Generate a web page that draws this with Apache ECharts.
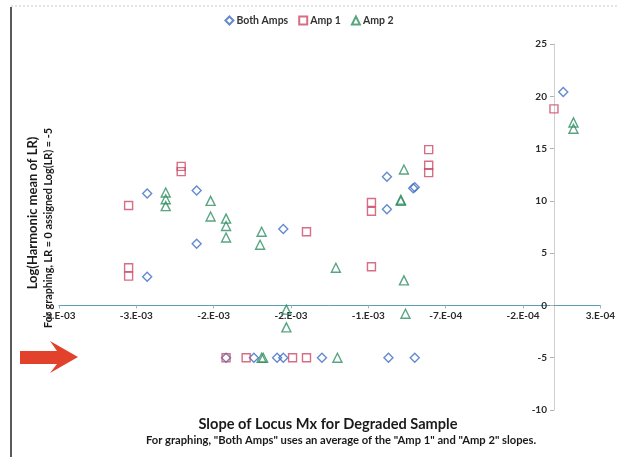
<!DOCTYPE html>
<html>
<head>
<meta charset="utf-8">
<script src="https://cdn.jsdelivr.net/npm/echarts@6/dist/echarts.min.js"></script>
<style>
html,body{margin:0;padding:0;background:#fff;}
#c{width:618px;height:457px;}
</style>
</head>
<body>
<div id="c"></div>
<script>
// ---- data (slope of locus Mx, log harmonic mean LR) ----
const seriesNames = ['Both Amps', 'Amp 1', 'Amp 2'];
const bothAmps = [
  [-2.63e-3, 10.7], [-2.63e-3, 2.75], [-2.31e-3, 11.0], [-2.31e-3, 5.9],
  [-1.75e-3, 7.3], [-1.08e-3, 12.3], [-1.08e-3, 9.2], [-0.91e-3, 11.2],
  [-0.90e-3, 11.3], [0.06e-3, 20.4],
  [-2.12e-3, -5], [-1.94e-3, -5], [-1.79e-3, -5], [-1.75e-3, -5],
  [-1.50e-3, -5], [-1.07e-3, -5], [-0.90e-3, -5]
];
const amp1 = [
  [-2.75e-3, 9.56], [-2.75e-3, 3.6], [-2.75e-3, 2.8], [-2.41e-3, 13.3],
  [-2.41e-3, 12.8], [-1.60e-3, 7.05], [-1.18e-3, 9.85], [-1.18e-3, 9.0],
  [-1.18e-3, 3.7], [-0.81e-3, 14.9], [-0.81e-3, 13.4], [-0.81e-3, 12.7],
  [0.0, 18.8],
  [-2.12e-3, -5], [-1.99e-3, -5], [-1.69e-3, -5], [-1.60e-3, -5]
];
const amp2 = [
  [-2.51e-3, 10.8], [-2.51e-3, 10.15], [-2.51e-3, 9.5], [-2.22e-3, 10.0],
  [-2.22e-3, 8.5], [-2.12e-3, 8.3], [-2.12e-3, 7.6], [-2.12e-3, 6.5],
  [-1.89e-3, 7.05], [-1.90e-3, 5.8], [-1.73e-3, -0.4], [-1.73e-3, -2.1],
  [-1.41e-3, 3.6], [-0.97e-3, 13.0], [-0.99e-3, 10.1], [-0.99e-3, 10.0],
  [-0.97e-3, 2.4], [-0.96e-3, -0.8], [0.126e-3, 17.5], [0.126e-3, 16.9],
  [-1.89e-3, -5], [-1.88e-3, -5], [-1.40e-3, -5]
];
const xRange = {min: -3.2e-3, max: 3e-4, interval: 5e-4};
const yRange = {min: -10, max: 25, interval: 5};

function excelSci(v) {
  if (Math.abs(v) < 1e-12) return '0.E+00';
  const s = v < 0 ? '-' : '';
  const a = Math.abs(v);
  let e = Math.floor(Math.log10(a) + 1e-9);
  let m = Math.round(a / Math.pow(10, e) + 1e-9);
  if (m >= 10) { m = 1; e += 1; }
  const es = (e < 0 ? '-' : '+') + String(Math.abs(e)).padStart(2, '0');
  return s + m + '.E' + es;
}

const FONT = 'Lato, "Open Sans", sans-serif';
const colors = ['#3d6ec2', '#cc4a68', '#2f8f62'];
const symbols = ['diamond', 'rect', 'triangle'];
const sizes = [9, 8, 9];
const dataSets = [bothAmps, amp1, amp2];

const chart = echarts.init(document.getElementById('c'));
chart.setOption({
  backgroundColor: '#fff',
  animation: false,
  textStyle: {fontFamily: FONT},
  legend: {
    top: 10, left: 'center',
    itemWidth: 8, itemHeight: 8, itemGap: 10,
    textStyle: {fontFamily: FONT, fontSize: 10.5, fontWeight: 'bold', color: '#333', padding: [0, 0, 0, -2]},
    data: seriesNames
  },
  grid: {left: 59, right: 15, top: 44, bottom: 47, containLabel: false},
  xAxis: {
    type: 'value', min: xRange.min, max: xRange.max, interval: xRange.interval,
    axisLine: {onZero: false, lineStyle: {color: '#5b9fb2', width: 1}},
    axisTick: {show: true, length: 3, lineStyle: {color: '#8fb8c4'}},
    axisLabel: {formatter: excelSci, fontFamily: FONT, fontSize: 10, fontWeight: 'bold', color: '#2a2a2a', margin: 5, showMinLabel: true, showMaxLabel: true},
    splitLine: {show: false}
  },
  yAxis: {
    type: 'value', min: yRange.min, max: yRange.max, interval: yRange.interval,
    axisLine: {show: true, onZero: false, lineStyle: {color: '#cfcfcf', width: 1}},
    axisTick: {show: true, length: 4, lineStyle: {color: '#b0b0b0'}},
    axisLabel: {fontFamily: FONT, fontSize: 10, fontWeight: 'bold', color: '#2a2a2a', margin: 7},
    splitLine: {show: false}
  },
  series: seriesNames.map((n, i) => ({
    name: n, type: 'scatter', data: dataSets[i],
    symbol: symbols[i], symbolSize: sizes[i],
    itemStyle: {color: 'rgba(255,255,255,0)', borderColor: colors[i], borderWidth: 1.4}
  })),
  graphic: [
    {type: 'line', shape: {x1: 11, y1: 7, x2: 11, y2: 457}, style: {stroke: '#222', lineWidth: 1.5}},
    {type: 'line', shape: {x1: 11, y1: 6, x2: 618, y2: 6}, style: {stroke: '#c8c8c8', lineWidth: 1, lineDash: [2, 2]}},
    {type: 'polygon', shape: {points: [[20, 351], [57, 351], [50, 341], [78, 357], [50, 373], [57, 364], [20, 364]]}, style: {fill: '#e2412c'}},
    {type: 'text', x: 328, y: 424, style: {text: 'Slope of Locus Mx for Degraded Sample', font: 'bold 14.6px ' + FONT, fill: '#1a1a1a', align: 'center', verticalAlign: 'middle'}},
    {type: 'text', x: 341, y: 440, style: {text: 'For graphing, "Both Amps" uses an average of the "Amp 1" and "Amp 2" slopes.', font: 'bold 11.2px ' + FONT, fill: '#1a1a1a', align: 'center', verticalAlign: 'middle'}},
    {type: 'text', x: 33, y: 213, rotation: Math.PI / 2, style: {text: 'Log(Harmonic mean of LR)', font: 'bold 13px ' + FONT, fill: '#1a1a1a', align: 'center', verticalAlign: 'middle'}},
    {type: 'text', x: 49, y: 228, rotation: Math.PI / 2, style: {text: 'For graphing, LR = 0 assigned Log(LR) = -5', font: 'bold 10.8px ' + FONT, fill: '#1a1a1a', align: 'center', verticalAlign: 'middle'}}
  ]
});

// Make the axes cross at the origin (x = 0, y = 0), as in the original chart.
const yZeroPx = chart.convertToPixel({yAxisIndex: 0}, 0);
const yMinPx = chart.convertToPixel({yAxisIndex: 0}, yRange.min);
const xZeroPx = chart.convertToPixel({xAxisIndex: 0}, 0);
const xMinPx = chart.convertToPixel({xAxisIndex: 0}, xRange.min);
chart.setOption({
  xAxis: {offset: yZeroPx - yMinPx},
  yAxis: {offset: xMinPx - xZeroPx}
});
</script>
</body>
</html>
